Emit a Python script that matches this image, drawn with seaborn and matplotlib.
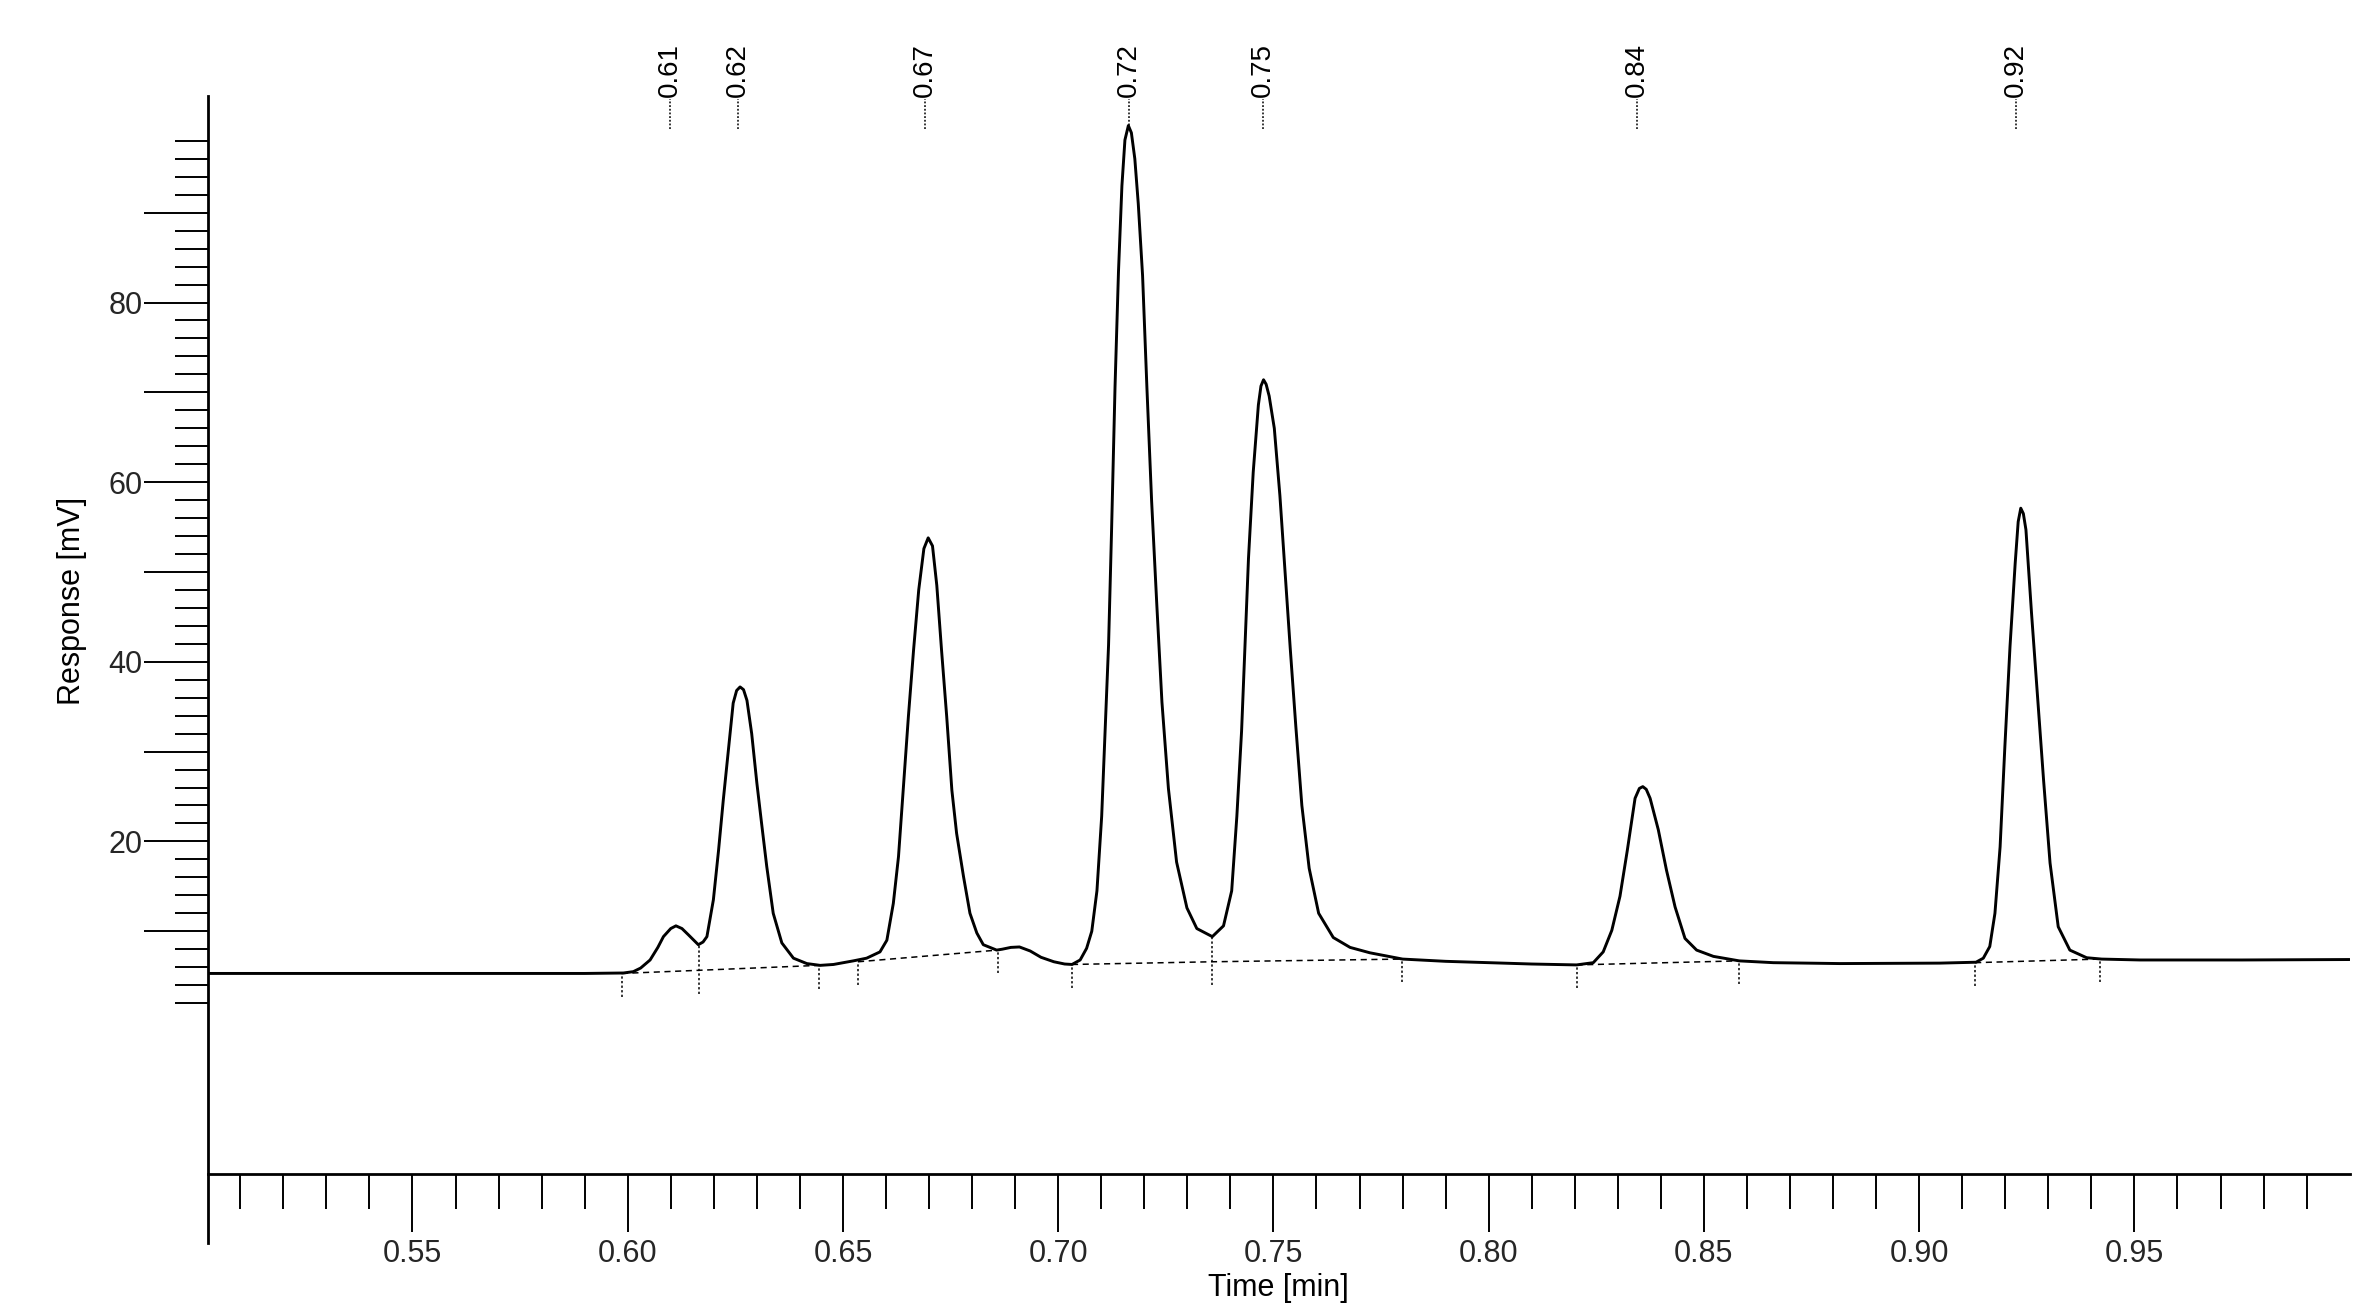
import matplotlib
matplotlib.use("Agg")
import matplotlib.pyplot as plt
import seaborn as sns
import pandas as pd
from matplotlib import font_manager
from matplotlib.ticker import FixedLocator, FuncFormatter

# Detector trace (time in min, response in mV)
time_min = [
    0.5025, 0.5500, 0.5900, 0.5990, 0.6013, 0.6030, 0.6052, 0.6070, 0.6083, 0.6100,
    0.6112, 0.6126, 0.6141, 0.6164, 0.6175, 0.6184, 0.6199, 0.6211, 0.6222, 0.6234,
    0.6245, 0.6253, 0.6261, 0.6269, 0.6277, 0.6288, 0.6300, 0.6311, 0.6323, 0.6338,
    0.6358, 0.6385, 0.6416, 0.6447, 0.6478, 0.6524, 0.6555, 0.6586, 0.6602, 0.6617,
    0.6629, 0.6640, 0.6652, 0.6664, 0.6676, 0.6688, 0.6698, 0.6708, 0.6718, 0.6729,
    0.6741, 0.6753, 0.6764, 0.6780, 0.6795, 0.6811, 0.6826, 0.6857, 0.6870, 0.6890,
    0.6910, 0.6935, 0.6960, 0.6990, 0.7015, 0.7032, 0.7051, 0.7066, 0.7078, 0.7090,
    0.7101, 0.7109, 0.7117, 0.7124, 0.7132, 0.7140, 0.7148, 0.7155, 0.7163, 0.7170,
    0.7178, 0.7186, 0.7196, 0.7206, 0.7217, 0.7229, 0.7241, 0.7256, 0.7275, 0.7299,
    0.7322, 0.7358, 0.7384, 0.7403, 0.7415, 0.7426, 0.7434, 0.7442, 0.7453, 0.7465,
    0.7471, 0.7477, 0.7483, 0.7490, 0.7502, 0.7515, 0.7527, 0.7539, 0.7552, 0.7566,
    0.7583, 0.7605, 0.7639, 0.7678, 0.7724, 0.7800, 0.7900, 0.8000, 0.8100, 0.8204,
    0.8243, 0.8266, 0.8286, 0.8305, 0.8322, 0.8340, 0.8350, 0.8358, 0.8366, 0.8375,
    0.8394, 0.8413, 0.8433, 0.8456, 0.8483, 0.8522, 0.8582, 0.8661, 0.8816, 0.9048,
    0.9132, 0.9149, 0.9164, 0.9176, 0.9188, 0.9199, 0.9211, 0.9223, 0.9230, 0.9236,
    0.9242, 0.9248, 0.9261, 0.9275, 0.9289, 0.9304, 0.9323, 0.9350, 0.9389, 0.9424,
    0.9513, 0.9750, 1.0000,
]
response_mv = [
    5.3, 5.3, 5.3, 5.35, 5.5, 5.9, 6.8, 8.2, 9.4, 10.3,
    10.6, 10.3, 9.6, 8.5, 8.8, 9.4, 13.5, 19.0, 24.6, 30.2,
    35.4, 36.8, 37.2, 36.9, 35.7, 32.0, 26.5, 22.0, 17.2, 12.0,
    8.7, 7.0, 6.4, 6.2, 6.3, 6.7, 7.0, 7.7, 9.0, 13.1,
    18.3, 25.7, 33.9, 41.3, 48.0, 52.6, 53.8, 52.9, 48.5, 41.3,
    33.9, 25.7, 20.9, 16.1, 12.0, 9.8, 8.5, 7.9, 8.0, 8.2,
    8.25, 7.8, 7.1, 6.6, 6.35, 6.3, 6.8, 8.1, 10.0, 14.5,
    22.8, 32.3, 41.9, 54.7, 70.6, 83.4, 93.0, 98.1, 99.7, 98.9,
    96.0, 91.0, 83.0, 70.6, 57.9, 46.4, 35.5, 25.9, 17.7, 12.6,
    10.3, 9.4, 10.6, 14.5, 22.8, 32.3, 41.9, 51.5, 61.1, 68.6,
    70.7, 71.4, 70.9, 69.6, 66.0, 58.5, 50.0, 41.5, 32.8, 24.0,
    17.0, 12.0, 9.3, 8.2, 7.6, 6.9, 6.65, 6.5, 6.35, 6.25,
    6.5, 7.7, 10.1, 13.9, 19.0, 24.8, 25.9, 26.1, 25.8, 24.8,
    21.3, 16.8, 12.7, 9.2, 7.9, 7.2, 6.7, 6.5, 6.4, 6.45,
    6.55, 7.0, 8.3, 12.0, 19.4, 30.5, 41.7, 50.95, 55.6, 57.1,
    56.5, 54.7, 45.4, 36.1, 26.8, 17.6, 10.5, 7.9, 7.05, 6.9,
    6.8, 6.8, 6.85,
]

# Peak retention time labels
peak_times = [0.6099, 0.6257, 0.6690, 0.7165, 0.7475, 0.8345, 0.9225]
peak_labels = ["0.61", "0.62", "0.67", "0.72", "0.75", "0.84", "0.92"]

# Integration events: drop-line time, trace level at the drop, baseline level
event_times = [0.5986, 0.6165, 0.6444, 0.6535, 0.6859, 0.7032, 0.7358, 0.7799,
               0.8204, 0.8581, 0.9130, 0.9419]
event_top = [5.3, 8.5, 6.2, 6.6, 7.9, 6.3, 9.4, 6.9, 6.25, 6.7, 6.5, 6.9]
event_base = [5.3, 5.65, 6.2, 6.6, 7.9, 6.3, 6.6, 6.9, 6.25, 6.7, 6.5, 6.9]
baseline_groups = [[0, 1, 2], [3, 4], [5, 6, 7], [8, 9], [10, 11]]

x_major = [0.55, 0.60, 0.65, 0.70, 0.75, 0.80, 0.85, 0.90, 0.95]
x_minor = [round(0.51 + 0.01 * i, 2) for i in range(49)]
y_major = [10, 20, 30, 40, 50, 60, 70, 80, 90]
y_labelled = [20, 40, 60, 80]
y_minor = list(range(2, 100, 2))

sns.set_theme(style="white")
names = {f.name for f in font_manager.fontManager.ttflist}
narrow = "Liberation Sans Narrow" if "Liberation Sans Narrow" in names else "Liberation Sans"
plt.rcParams["font.family"] = ["Liberation Sans", "DejaVu Sans"]

df = pd.DataFrame({"time": time_min, "response": response_mv})

fig = plt.figure(figsize=(23.77, 13.09), dpi=100)
ax = fig.add_axes([0.0875, 0.0505, 0.901, 0.8762])

sns.lineplot(data=df, x="time", y="response", ax=ax, color="black",
             linewidth=2.1, estimator=None, sort=False)

# dashed integration baseline
for grp in baseline_groups:
    ax.plot([event_times[i] for i in grp], [event_base[i] for i in grp],
            color="black", lw=1.1, ls=(0, (4, 3)))

# dotted drop lines
ax.vlines(event_times, [b - 2.6 for b in event_base], event_top,
          colors="black", lw=1.1, linestyles=(0, (1.5, 1.5)))

# peak labels above the trace
ax.vlines(peak_times, 99.3, 102.7, colors="black", lw=1.1,
          linestyles=(0, (1.2, 1.2)), clip_on=False)
for t, lab in zip(peak_times, peak_labels):
    ax.text(t, 102.9, lab, rotation=90, ha="center", va="bottom",
            fontsize=20, color="black", clip_on=False)

ax.set_xlim(0.5025, 1.0)
ax.set_ylim(-24.7, 103)

for s in ["top", "right"]:
    ax.spines[s].set_visible(False)
ax.spines["bottom"].set_position(("data", -17))
for s in ["left", "bottom"]:
    ax.spines[s].set_color("black")
    ax.spines[s].set_linewidth(2.0)

ax.xaxis.set_major_locator(FixedLocator(x_major))
ax.xaxis.set_minor_locator(FixedLocator([v for v in x_minor if v not in x_major]))
ax.xaxis.set_major_formatter(FuncFormatter(lambda v, p: f"{v:.2f}"))
ax.yaxis.set_major_locator(FixedLocator(y_major))
ax.yaxis.set_minor_locator(FixedLocator([v for v in y_minor if v % 10 != 0]))
ax.yaxis.set_major_formatter(FuncFormatter(lambda v, p: f"{int(v)}" if int(v) in y_labelled else ""))

ax.tick_params(axis="x", which="major", direction="out", length=42, width=1.4,
               color="black", pad=5, labelsize=22, bottom=True)
ax.tick_params(axis="x", which="minor", direction="out", length=25, width=1.4,
               color="black", bottom=True)
ax.tick_params(axis="y", which="major", direction="out", length=46, width=1.4,
               color="black", pad=1, labelsize=22, left=True)
ax.tick_params(axis="y", which="minor", direction="out", length=24, width=1.4,
               color="black", left=True)
for lab in ax.get_xticklabels():
    lab.set_family([narrow, "DejaVu Sans"])

ax.set_xlabel("Time [min]", fontsize=22, color="black", family=[narrow, "DejaVu Sans"])
ax.set_ylabel("Response [mV]", fontsize=22, color="black")
ax.xaxis.set_label_coords(0.5, -0.026)
ax.yaxis.set_label_coords(-0.0565, 0.56)
ax.grid(False)

fig.savefig("out.png", dpi=100, facecolor="white")
plt.close(fig)
